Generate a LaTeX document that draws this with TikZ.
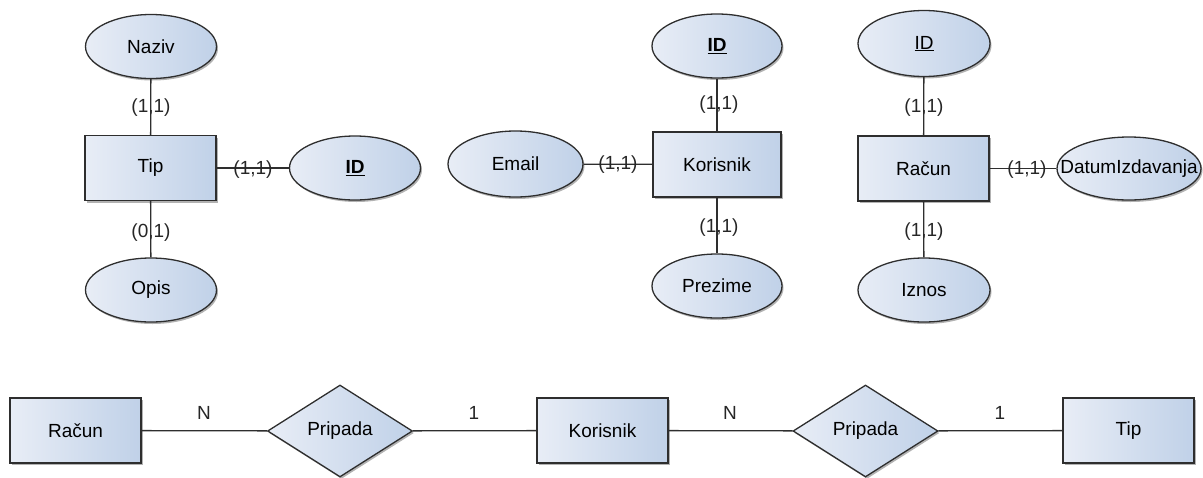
\documentclass[tikz,border=0pt]{standalone}
\usepackage{fontspec}
\setmainfont{Liberation Sans}
\usetikzlibrary{shapes.geometric,shadows}
\definecolor{fillA}{HTML}{E8EDF6}
\definecolor{fillB}{HTML}{C0D1E8}
\definecolor{edge}{HTML}{2E2E2E}
\begin{document}
\begin{tikzpicture}[x=1pt,y=-1pt,
  font=\fontsize{19}{22}\selectfont,
  base/.style={draw=edge, line width=1.3pt, left color=fillA, right color=fillB,
    drop shadow={shadow xshift=1.5pt, shadow yshift=-2pt, fill=black, opacity=0.3}},
  entity/.style={base, rectangle, minimum width=131pt, minimum height=65pt, inner sep=0pt},
  attr/.style={base, ellipse, minimum width=131pt, minimum height=64pt, inner sep=0pt},
  rel/.style={base, diamond, minimum width=145pt, minimum height=92pt, inner sep=0pt},
  conn/.style={draw=edge, line width=1.3pt},
  card/.style={inner sep=0pt, text=black!85}
]
\useasboundingbox (0,0) rectangle (1203,477);

% Tip group
\node[entity] (tip) at (150.5,168) {Tip};
\node[attr] (naziv) at (151,46.5) {Naziv};
\node[attr] (opis) at (151,290) {Opis};
\node[attr] (tipid) at (355,168) {\underline{\textbf{ID}}};
\draw[conn] (tip) -- (naziv);
\draw[conn] (tip) -- (opis);
\draw[conn] (tip) -- (tipid);
\node[card] (l1) at (151,108) {(1,1)};
\node[card] (l2) at (151,233) {(0,1)};
\node[card] (l3) at (253,170) {(1,1)};

% Korisnik group
\node[entity, minimum width=128pt] (kor) at (717,164.5) {Korisnik};
\node[attr, minimum width=130pt] (korid) at (717,46) {\underline{\textbf{ID}}};
\node[attr, minimum width=135pt, minimum height=66pt] (email) at (515.5,164) {Email};
\node[attr, minimum width=130pt] (prez) at (717,286) {Prezime};
\draw[conn] (kor) -- (korid);
\draw[conn] (kor) -- (prez);
\draw[conn] (kor) -- (email);
\node[card] (l4) at (719,105) {(1,1)};
\node[card] (l5) at (719,228) {(1,1)};
\node[card] (l6) at (618,165) {(1,1)};

% Racun group
\node[entity] (rac) at (923.5,168.5) {Račun};
\node[attr, minimum width=132pt, minimum height=66pt] (racid) at (924,43.5) {\underline{ID}};
\node[attr, minimum width=132pt] (iznos) at (924,290) {Iznos};
\node[attr, minimum width=144pt, minimum height=63pt] (datum) at (1129,168.5) {\makebox[0pt]{DatumIzdavanja}};
\draw[conn] (rac) -- (racid);
\draw[conn] (rac) -- (iznos);
\draw[conn] (rac) -- (datum);
\node[card] (l7) at (924,108) {(1,1)};
\node[card] (l8) at (924,232) {(1,1)};
\node[card] (l9) at (1027,170) {(1,1)};

% Bottom relationships
\node[entity] (brac) at (75.5,430.5) {Račun};
\node[rel] (pr1) at (340,431) {Pripada};
\node[entity] (bkor) at (602.5,430.5) {Korisnik};
\node[rel] (pr2) at (865.5,431) {Pripada};
\node[entity] (btip) at (1128.5,430.5) {Tip};
\draw[conn] (brac) -- (pr1);
\draw[conn] (pr1) -- (bkor);
\draw[conn] (bkor) -- (pr2);
\draw[conn] (pr2) -- (btip);
\node[card] (n1) at (204,413) {N};
\node[card] (o1) at (474,413) {1};
\node[card] (n2) at (730,413) {N};
\node[card] (o2) at (1000,413) {1};
\end{tikzpicture}
\end{document}
